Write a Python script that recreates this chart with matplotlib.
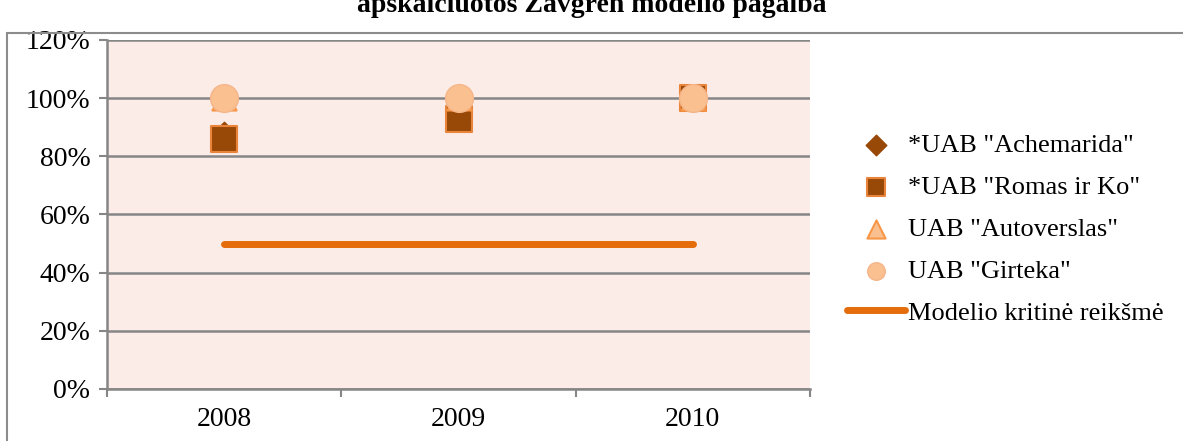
import matplotlib.pyplot as plt
from matplotlib.patches import Rectangle

years = ["2008", "2009", "2010"]
achemarida = [0.88, 0.93, 1.00]
romas = [0.86, 0.93, 1.00]
autoverslas = [1.00, 1.00, 1.00]
girteka = [1.00, 1.00, 1.00]
critical = [0.50, 0.50, 0.50]

plt.rcParams["font.family"] = ["Liberation Serif", "DejaVu Serif"]

fig = plt.figure(figsize=(11.83, 4.41), dpi=100)
ax = fig.add_axes([107 / 1183, 1 - 389 / 441, (810 - 107) / 1183, (389 - 40) / 441])

# outer chart border
fig.patches.append(Rectangle((7 / 1183, -0.01), 1.0, (441 - 33) / 441 + 0.01,
                             transform=fig.transFigure, fill=False,
                             edgecolor="#8c8c8c", linewidth=1.5))

x = [i + 0.5 for i in range(len(years))]
ax.set_facecolor("#FCECE8")

ax.plot(x, critical, color="#E46C0A", linewidth=5, solid_capstyle="round",
        label="Modelio kritinė reikšmė", zorder=3)
ax.scatter(x, achemarida, marker="D", s=130, color="#984807", edgecolor="#984807",
           label='*UAB "Achemarida"', zorder=4)
ax.scatter(x, romas, marker="s", s=370, color="#984807", edgecolor="#E8853A",
           linewidth=1.5, label='*UAB "Romas ir Ko"', zorder=5)
ax.scatter(x, autoverslas, marker="^", s=300, color="#FAC090", edgecolor="#F79646",
           linewidth=1.5, label='UAB "Autoverslas"', zorder=6)
ax.scatter(x, girteka, marker="o", s=400, color="#FAC090", edgecolor="#F5B58A",
           linewidth=1, label='UAB "Girteka"', zorder=7)

ax.set_xlim(0, 3)
ax.set_ylim(0, 1.2)
ax.set_yticks([0, 0.2, 0.4, 0.6, 0.8, 1.0, 1.2])
ax.set_yticklabels(["0%", "20%", "40%", "60%", "80%", "100%", "120%"])
ax.set_xticks([0, 1, 2, 3], minor=False)
ax.set_xticklabels([])
ax.set_xticks(x, minor=True)
ax.set_xticklabels(years, minor=True)
ax.tick_params(axis="x", which="minor", length=0, labelsize=20, pad=13)
ax.tick_params(axis="x", which="major", length=6, color="#868686", width=1.5, direction="out")
ax.tick_params(axis="y", length=6, color="#868686", width=1.5, labelsize=20, pad=6)
ax.grid(axis="y", color="#868686", linewidth=1.8)
ax.set_axisbelow(True)
for side in ["top", "right"]:
    ax.spines[side].set_visible(False)
for side in ["left", "bottom"]:
    ax.spines[side].set_color("#868686")
    ax.spines[side].set_linewidth(1.8)

handles, labels = ax.get_legend_handles_labels()
order = [1, 2, 3, 4, 0]
leg = fig.legend([handles[i] for i in order], [labels[i] for i in order],
                 loc="center left", bbox_to_anchor=(847 / 1183, 1 - 229 / 441),
                 frameon=False, fontsize=19, labelspacing=0.7, handlelength=2.2,
                 handletextpad=0.1, borderpad=0, borderaxespad=0)
# legend marker sizes
for h, size in zip(leg.legend_handles[:4], [110, 150, 170, 160]):
    h.set_sizes([size])

fig.text(0.5, 1 - 6 / 441, "apskaičiuotos Zavgren modelio pagalba", ha="center",
         va="center", fontsize=20, fontweight="bold")

fig.savefig("out.png", dpi=100)
